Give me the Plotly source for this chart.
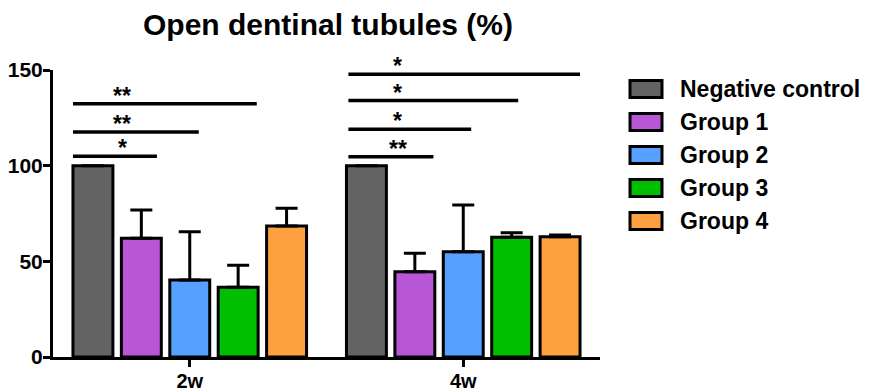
import plotly.graph_objects as go

# ---- data ----
weeks = ["2w", "4w"]
groups = ["Negative control", "Group 1", "Group 2", "Group 3", "Group 4"]
colors = ["#636363", "#B857D6", "#56A0FF", "#00BE00", "#FFA040"]
means = {
    "Negative control": [100, 100],
    "Group 1": [62, 44.6],
    "Group 2": [40.2, 55],
    "Group 3": [36.4, 62.6],
    "Group 4": [68.5, 62.9],
}
err_upper = {
    "Negative control": [0, 0],
    "Group 1": [14.8, 9.6],
    "Group 2": [25.3, 24.4],
    "Group 3": [11.6, 2.4],
    "Group 4": [9.2, 0.9],
}
# significance brackets: (x start, x end, y level, label) in axis units
sig_x0 = [-0.427, -0.427, -0.427, 0.580, 0.580, 0.580, 0.580]
sig_x1 = [-0.120, 0.033, 0.245, 0.891, 1.029, 1.201, 1.427]
sig_y = [104.9, 117.6, 132.3, 104.7, 119.0, 134.0, 147.8]
sig_labels = ["*", "**", "**", "**", "*", "*", "*"]

FONT = "Liberation Sans, Arial, sans-serif"
W, H = 869, 392
L, R, T, B = 53, 269, 70, 35
PW, PH = W - L - R, H - T - B

fig = go.Figure()
for g, c in zip(groups, colors):
    fig.add_trace(go.Bar(
        name=g, x=weeks, y=means[g],
        marker=dict(color=c, line=dict(color="black", width=3)),
        error_y=dict(type="data", symmetric=False, array=err_upper[g],
                     arrayminus=[0, 0], color="black", thickness=3, width=11,
                     visible=True),
        showlegend=False,
    ))

shapes = []
annotations = []
for x0, x1, y, lab in zip(sig_x0, sig_x1, sig_y, sig_labels):
    shapes.append(dict(type="line", xref="x", yref="y", x0=x0, x1=x1, y0=y, y1=y,
                       line=dict(color="black", width=3.5)))
    annotations.append(dict(x=x0 + 0.18, y=y, xref="x", yref="y", text=lab,
                            showarrow=False, xanchor="center", yanchor="bottom",
                            yshift=-7,
                            font=dict(family=FONT, size=23, color="black", weight="bold")))

# custom legend (wide swatches like the original)
def px_x(px):
    return (px - L) / PW

def px_y(py):
    return (H - B - py) / PH

for i, (g, c) in enumerate(zip(groups, colors)):
    cy = 89 + 33 * i
    shapes.append(dict(type="rect", xref="paper", yref="paper",
                       x0=px_x(630), x1=px_x(662), y0=px_y(cy + 8.5), y1=px_y(cy - 8.5),
                       fillcolor=c, line=dict(color="black", width=3)))
    annotations.append(dict(x=px_x(678), y=px_y(cy), xref="paper", yref="paper",
                            text=g, showarrow=False, xanchor="left", yanchor="middle",
                            font=dict(family=FONT, size=23, color="black", weight="bold")))

fig.update_layout(
    width=W, height=H,
    margin=dict(l=L, r=R, t=T, b=B, autoexpand=False),
    paper_bgcolor="white", plot_bgcolor="white",
    barmode="group", bargap=0.115, bargroupgap=0.175,
    title=dict(text="Open dentinal tubules (%)", x=328 / W, xanchor="center",
               xref="container", y=1 - 24 / H, yanchor="middle", yref="container",
               font=dict(family=FONT, size=30, color="black", weight="bold")),
    shapes=shapes, annotations=annotations,
    showlegend=False,
)
fig.update_xaxes(
    range=[-0.5, 1.5], showline=True, linecolor="black", linewidth=3,
    ticks="outside", ticklen=7, tickwidth=2.5, tickcolor="black",
    showgrid=False, zeroline=False, ticklabelstandoff=-3,
    tickfont=dict(family=FONT, size=20, color="black", weight="bold"),
)
fig.update_yaxes(
    range=[0, 150], tickvals=[0, 50, 100, 150], showline=True, linecolor="black",
    linewidth=3, ticks="outside", ticklen=7, tickwidth=2.5, tickcolor="black",
    showgrid=False, zeroline=False, ticklabelstandoff=-4,
    tickfont=dict(family=FONT, size=21, color="black", weight="bold"),
)

fig.write_html("out.html", config={"displayModeBar": False},
               post_script="document.body.style.margin='0';")
